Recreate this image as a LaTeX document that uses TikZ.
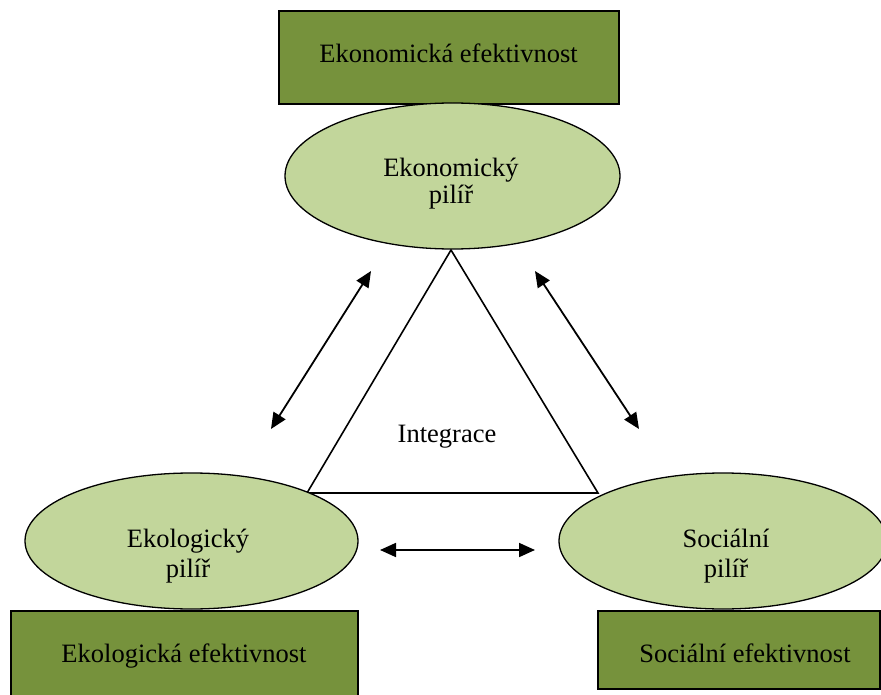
\documentclass[tikz,border=0pt]{standalone}
\usepackage{fontspec}
\setmainfont{Liberation Serif}
\usetikzlibrary{shapes.geometric,arrows.meta}
\definecolor{effgreen}{HTML}{76923C}
\definecolor{pillargreen}{HTML}{C2D69B}
\tikzset{
  effbox/.style={draw=black, line width=1.3pt, fill=effgreen, rectangle, inner sep=0pt},
  pillar/.style={draw=black, line width=1.3pt, fill=pillargreen, ellipse, inner sep=0pt},
  lbl/.style={font=\fontsize{26.5}{30}\selectfont, align=center, inner sep=0pt},
  link/.style={line width=1.8pt, {Triangle[length=16pt,width=14pt]}-{Triangle[length=16pt,width=14pt]}},
  frame/.style={line width=1.6pt},
}
\begin{document}
\begin{tikzpicture}[x=1pt, y=-1pt]
  \useasboundingbox[fill=white] (0,0) rectangle (881,695);
  \clip (0,0) rectangle (881,695);

  % efficiency boxes
  \node[effbox, minimum width=340pt, minimum height=93pt] (econbox) at (449,57.5) {};
  \node[effbox, minimum width=347pt, minimum height=92pt] (ecobox) at (184.5,657) {};
  \node[effbox, minimum width=282pt, minimum height=78pt] (socbox) at (739,650) {};
  \node[lbl, anchor=base] (econeff) at (448.5,63) {Ekonomická efektivnost};
  \node[lbl, anchor=base] (ecoeff) at (184,662) {Ekologická efektivnost};
  \node[lbl, anchor=base] (soceff) at (745,662) {Sociální efektivnost};

  % integration triangle
  \coordinate (tapex) at (451,250);
  \coordinate (tleft) at (307,493);
  \coordinate (tright) at (598,493);
  \draw[frame, line join=miter] (tapex) -- (tleft) -- (tright) -- cycle;
  \node[lbl, anchor=base] (integ) at (447,442) {Integrace};

  % pillars
  \node[pillar, minimum width=335pt, minimum height=146pt] (econ) at (452.5,176) {};
  \node[pillar, minimum width=333pt, minimum height=136pt] (eco) at (191.5,541) {};
  \node[pillar, minimum width=328pt, minimum height=136pt] (soc) at (723,541) {};
  \node[lbl] (econtxt) at (451,184) {Ekonomický\\[-3pt]pilíř};
  \node[lbl] (ecotxt) at (188,556) {Ekologický\\pilíř};
  \node[lbl] (soctxt) at (726,556) {Sociální\\pilíř};

  % interaction arrows
  \coordinate (a1s) at (371,271);
  \coordinate (a1e) at (271,429);
  \coordinate (a2s) at (535,271);
  \coordinate (a2e) at (639,429);
  \coordinate (a3s) at (380,550);
  \coordinate (a3e) at (535,550);
  \draw[link] (a1s) -- (a1e);
  \draw[link] (a2s) -- (a2e);
  \draw[link] (a3s) -- (a3e);
\end{tikzpicture}
\end{document}
